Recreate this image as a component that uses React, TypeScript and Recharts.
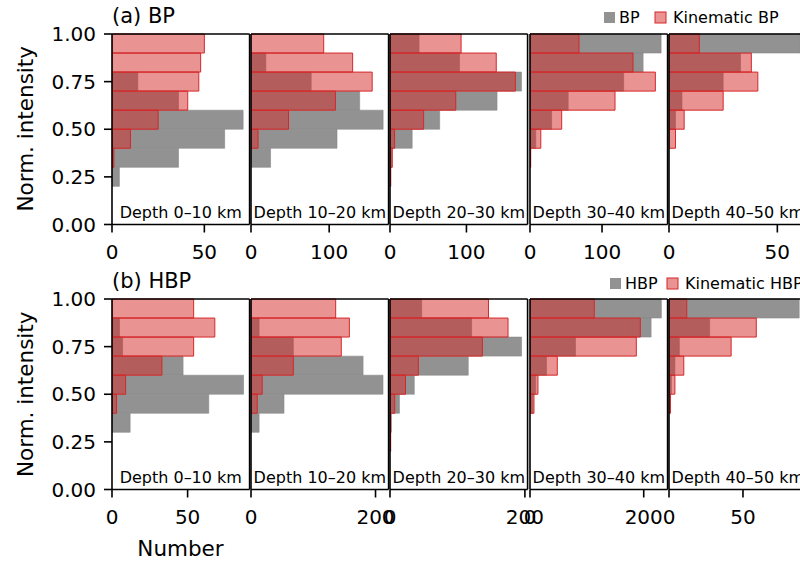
import React from 'react';
import { BarChart, Bar, XAxis, YAxis, ReferenceArea, ComposedChart } from 'recharts';

// ---------- data (bins listed top to bottom: 0.9–1.0 ... 0.0–0.1) ----------
const binLabels = ['0.9–1.0', '0.8–0.9', '0.7–0.8', '0.6–0.7', '0.5–0.6', '0.4–0.5', '0.3–0.4', '0.2–0.3', '0.1–0.2', '0.0–0.1'];
const depthLabels = ['Depth 0–10 km', 'Depth 10–20 km', 'Depth 20–30 km', 'Depth 30–40 km', 'Depth 40–50 km'];
const yTicks = [0, 0.25, 0.5, 0.75, 1];

// (a) BP
const bp0_10 = [0, 0, 14, 36, 71, 61, 36, 4, 0, 0];
const kinBp0_10 = [50, 48, 47, 41, 25, 10, 1, 0, 0, 0];
const bp10_20 = [0, 19, 77, 139, 169, 110, 25, 0, 0, 0];
const kinBp10_20 = [93, 130, 155, 108, 48, 9, 0, 0, 0, 0];
const bp20_30 = [38, 91, 172, 140, 65, 29, 2, 0, 0, 0];
const kinBp20_30 = [93, 139, 164, 86, 44, 6, 3, 1, 0, 0];
const bp30_40 = [182, 157, 130, 53, 30, 8, 0, 0, 0, 0];
const kinBp30_40 = [68, 143, 174, 118, 44, 15, 1, 0, 0, 0];
const bp40_50 = [60.5, 33, 25, 6, 3, 0, 0, 0, 0, 0];
const kinBp40_50 = [14, 38, 41, 25, 7, 3, 0, 0, 0, 0];

// (b) HBP
const hbp0_10 = [0, 5, 7, 47, 87, 64, 12, 0, 0, 0];
const kinHbp0_10 = [54, 68, 54, 33, 9, 3, 0, 0, 0, 0];
const hbp10_20 = [0, 13, 68, 180, 212, 53, 13, 0, 0, 0];
const kinHbp10_20 = [136, 158, 145, 68, 18, 10, 0, 0, 0, 0];
const hbp20_30 = [47, 121, 195, 116, 36, 14, 2, 0, 0, 0];
const kinHbp20_30 = [146, 175, 137, 42, 23, 7, 1, 1, 0, 0];
const hbp30_40 = [231, 213, 80, 29, 10, 5, 0, 0, 0, 0];
const kinHbp30_40 = [113, 194, 187, 48, 14, 7, 0, 0, 0, 0];
const hbp40_50 = [88, 27.5, 7, 4, 1.6, 0, 0, 0, 0, 0];
const kinHbp40_50 = [12, 59, 42, 10, 4, 1, 0, 0, 0, 0];

const topXMax = [74.5, 176, 180, 191, 63.5];
const topXTicks = [[0, 50], [0, 100], [0, 100], [0, 100], [0, 50]];
const botXMax = [91, 221, 204, 242, 93];
const botXTicks = [[0, 50], [0, 200], [0, 200], [0, 200], [0, 50]];

const topGray = [bp0_10, bp10_20, bp20_30, bp30_40, bp40_50];
const topKin = [kinBp0_10, kinBp10_20, kinBp20_30, kinBp30_40, kinBp40_50];
const botGray = [hbp0_10, hbp10_20, hbp20_30, hbp30_40, hbp40_50];
const botKin = [kinHbp0_10, kinHbp10_20, kinHbp20_30, kinHbp30_40, kinHbp40_50];

// ---------- layout ----------
const FONT = '"DejaVu Sans", sans-serif';
const PLOT_W = 137.6;
const PLOT_H = 190.5;
const YW = 60;
const XH = 40;
const TOPPAD = 12;
const RIGHTPAD = 25;
const PANEL_LEFT0 = 111.5;
const PANEL_STEP = 139.4;
const TOP_ROW = 33.5;
const BOT_ROW = 299;
const GRAY = '#929292';
const RED = '#d62728';

type PanelProps = {
  left: number;
  top: number;
  gray: number[];
  kin: number[];
  xMax: number;
  xTicks: number[];
  depth: string;
  showY: boolean;
};

function Panel({ left, top, gray, kin, xMax, xTicks, depth, showY }: PanelProps) {
  const data = binLabels.map((b, i) => ({ bin: b, g: gray[i], k: kin[i] }));
  const line = { stroke: '#000', strokeWidth: 1.6 };
  const W = YW + PLOT_W + RIGHTPAD;
  const H = TOPPAD + PLOT_H + XH;
  const pos = { position: 'absolute' as const, left: left - YW, top: top - TOPPAD };
  return (
    <>
      <div style={pos}>
        <BarChart
          width={W}
          height={H}
          data={data}
          layout="vertical"
          margin={{ top: TOPPAD, right: RIGHTPAD, bottom: XH, left: YW }}
          barCategoryGap={0}
          barGap={0}
        >
          <XAxis type="number" domain={[0, xMax]} allowDataOverflow hide />
          <YAxis yAxisId="c1" type="category" dataKey="bin" hide />
          <YAxis yAxisId="c2" type="category" dataKey="bin" hide />
          <Bar dataKey="g" yAxisId="c1" fill={GRAY} stroke="#878787" strokeWidth={0.6} isAnimationActive={false} />
          <Bar dataKey="k" yAxisId="c2" fill={RED} fillOpacity={0.5} stroke={RED} strokeWidth={1} isAnimationActive={false} />
        </BarChart>
      </div>
      <div style={pos}>
        <ComposedChart width={W} height={H} data={[{ x: 0, y: 0 }]} margin={{ top: TOPPAD - 1, right: RIGHTPAD - 1, bottom: 0, left: 0 }}>
          <XAxis
            type="number"
            dataKey="x"
            domain={[0, xMax]}
            ticks={xTicks}
            interval={0}
            allowDataOverflow
            height={XH}
            tickSize={8}
            tickMargin={12}
            axisLine={line}
            tickLine={line}
            tick={{ fontSize: 20, fill: '#000' }}
          />
          <XAxis
            xAxisId="top"
            orientation="top"
            type="number"
            dataKey="x"
            domain={[0, xMax]}
            allowDataOverflow
            height={1}
            axisLine={line}
            tickLine={false}
            tick={false}
          />
          <YAxis
            type="number"
            dataKey="y"
            domain={[0, 1]}
            ticks={yTicks}
            interval={0}
            allowDataOverflow
            width={YW}
            tickSize={8}
            tickMargin={8}
            axisLine={line}
            tickLine={line}
            tickFormatter={(v: number) => v.toFixed(2)}
            tick={showY ? { fontSize: 20, fill: '#000' } : false}
          />
          <YAxis
            yAxisId="right"
            orientation="right"
            type="number"
            dataKey="y"
            domain={[0, 1]}
            allowDataOverflow
            width={1}
            axisLine={line}
            tickLine={false}
            tick={false}
          />
          <ReferenceArea
            x1={0}
            x2={xMax}
            y1={0}
            y2={1}
            fill="none"
            fillOpacity={0}
            strokeOpacity={0}
            ifOverflow="visible"
            label={{ value: depth, position: 'insideBottom', offset: 6, fontSize: 16, fill: '#000' }}
          />
        </ComposedChart>
      </div>
    </>
  );
}

function Legend({ y, grayLabel, kinLabel, x0, x1 }: { y: number; grayLabel: string; kinLabel: string; x0: number; x1: number }) {
  return (
    <g>
      <rect x={x0} y={y - 5} width={11} height={11} fill={GRAY} />
      <text x={x0 + 15} y={y + 6} fontSize={16} fill="#000">{grayLabel}</text>
      <rect x={x1} y={y - 5} width={11} height={11} fill={RED} fillOpacity={0.5} stroke={RED} strokeWidth={1} />
      <text x={x1 + 18} y={y + 6} fontSize={16} fill="#000">{kinLabel}</text>
    </g>
  );
}

export default function App() {
  return (
    <div style={{ position: 'absolute', left: 0, top: 0, width: 800, height: 565, overflow: 'hidden', background: '#fff', fontFamily: FONT }}>
      {[0, 1, 2, 3, 4].map((i) => (
        <Panel
          key={'t' + i}
          left={PANEL_LEFT0 + PANEL_STEP * i}
          top={TOP_ROW}
          gray={topGray[i]}
          kin={topKin[i]}
          xMax={topXMax[i]}
          xTicks={topXTicks[i]}
          depth={depthLabels[i]}
          showY={i === 0}
        />
      ))}
      {[0, 1, 2, 3, 4].map((i) => (
        <Panel
          key={'b' + i}
          left={PANEL_LEFT0 + PANEL_STEP * i}
          top={BOT_ROW}
          gray={botGray[i]}
          kin={botKin[i]}
          xMax={botXMax[i]}
          xTicks={botXTicks[i]}
          depth={depthLabels[i]}
          showY={i === 0}
        />
      ))}
      <svg width={800} height={565} style={{ position: 'absolute', left: 0, top: 0, pointerEvents: 'none' }} fontFamily={FONT}>
        <text x={112} y={22.5} fontSize={21} fill="#000">(a) BP</text>
        <text x={112} y={288} fontSize={21} fill="#000">(b) HBP</text>
        <text transform="translate(25,128.8) rotate(-90)" textAnchor="middle" dominantBaseline="central" fontSize={21.5} fill="#000">Norm. intensity</text>
        <text transform="translate(25,394.3) rotate(-90)" textAnchor="middle" dominantBaseline="central" fontSize={21.5} fill="#000">Norm. intensity</text>
        <text x={180.5} y={556} textAnchor="middle" fontSize={21.5} fill="#000">Number</text>
        <Legend y={17} grayLabel="BP" kinLabel="Kinematic BP" x0={604} x1={655} />
        <Legend y={283} grayLabel="HBP" kinLabel="Kinematic HBP" x0={610} x1={667} />
      </svg>
    </div>
  );
}
